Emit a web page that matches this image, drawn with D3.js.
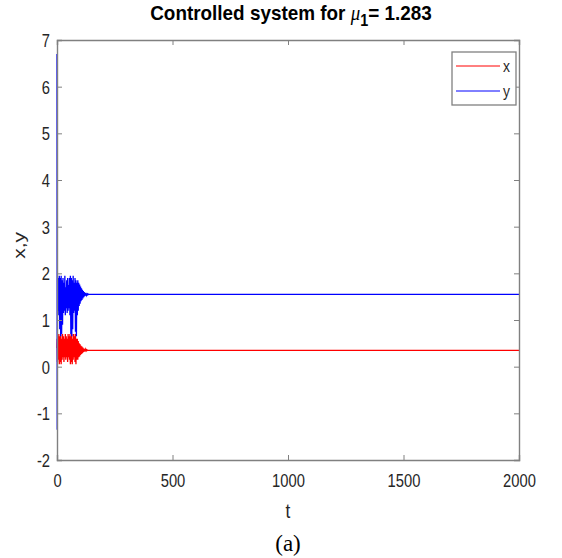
<!doctype html>
<html>

<head>
    <meta charset="utf-8">
    <style>
        body { margin: 0; background: #fff; }
        text { font-family: "Liberation Sans", Arial, sans-serif; }
    </style>
    <script src="https://d3js.org/d3.v7.min.js"></script>
</head>

<body>
    <svg width="562" height="558"></svg>
    <script>
        var xTicks = [0, 500, 1000, 1500, 2000]
        var yTicks = [-2, -1, 0, 1, 2, 3, 4, 5, 6, 7]

        var tVals = [0, 1, 2, 4, 6, 8, 10, 12, 14, 16, 18, 20, 22, 24, 26, 28, 30, 32, 34, 36, 38, 40,
            42, 44, 46, 48, 50, 52, 54, 56, 58, 60, 62, 64, 66, 68, 70, 72, 74, 76, 78, 80,
            82, 84, 86, 88, 90, 92, 94, 96, 98, 100, 102, 104, 106, 108, 110, 112, 114, 116, 118, 120,
            122, 124, 126, 128, 130, 132, 134, 136, 138, 140, 2000]

        var xVals = [0.4, 0.6, 0.1, 0.65, 0.15, 0.7, 0.05, 0.65, 0.1, 0.7, 0.05, 0.6, 0.15, 0.7, 0.2, 0.65, 0.1, 0.6, 0.2, 0.7, 0.15, 0.65,
            0.2, 0.6, 0.1, 0.7, 0.2, 0.65, 0.15, 0.7, 0.05, 0.65, 0.1, 0.7, 0.05, 0.6, 0.15, 0.7, 0.2, 0.65, 0.1, 0.7,
            0.05, 0.6, 0.15, 0.6, 0.15, 0.55, 0.2, 0.5, 0.22, 0.48, 0.25, 0.45, 0.27, 0.43, 0.29, 0.41, 0.31, 0.39, 0.32, 0.38,
            0.33, 0.37, 0.34, 0.36, 0.345, 0.355, 0.35, 0.35, 0.35, 0.35, 0.35]

        var yVals = [6.7, -1.35, 1.95, 1.2, 1.9, 1.1, 1.95, 0.8, 1.9, 0.65, 1.95, 0.7, 1.85, 0.9, 1.9, 1.15, 1.8, 1.2, 1.95, 1.1, 1.7, 1.25,
            1.85, 1.15, 1.9, 1.2, 1.75, 1.25, 1.9, 1.1, 1.95, 0.7, 1.9, 0.65, 1.85, 0.8, 1.95, 1.15, 1.8, 1.2, 1.9, 0.75,
            1.85, 0.65, 1.8, 1.1, 1.85, 1.2, 1.8, 1.3, 1.76, 1.35, 1.72, 1.4, 1.68, 1.43, 1.65, 1.46, 1.62, 1.49, 1.6, 1.51,
            1.58, 1.52, 1.57, 1.53, 1.56, 1.54, 1.555, 1.545, 1.55, 1.55, 1.55]

        var svg = d3.select("svg"),
            margin = { top: 40, right: 43, bottom: 98, left: 57 },
            width = 562 - margin.left - margin.right,
            height = 558 - margin.top - margin.bottom

        // the figure's lettering is squeezed horizontally
        var squeeze = 0.82;

        var xScale = d3.scaleLinear().domain([0, 2000]).range([0, width]),
            yScale = d3.scaleLinear().domain([-2, 7]).range([height, 0]);

        var g = svg.append("g")
            .attr("transform", "translate(" + margin.left + "," + margin.top + ")");

        var line = d3.line()
            .x(function (d, i) { return xScale(tVals[i]); })
            .y(function (d) { return yScale(d); });

        g.append("path")
            .datum(xVals)
            .attr("fill", "none")
            .attr("stroke", "#ff0000")
            .attr("stroke-width", 1.3)
            .attr("d", line);

        g.append("path")
            .datum(yVals)
            .attr("fill", "none")
            .attr("stroke", "#0000ff")
            .attr("stroke-width", 1.3)
            .attr("d", line);

        // axes, ticks pointing inwards on all sides
        var axisColor = "#808080", labelColor = "#262626";
        var plain = function (d) { return String(d); };

        var axBottom = g.append("g")
            .attr("transform", "translate(0," + height + ")")
            .call(d3.axisBottom(xScale).tickValues(xTicks).tickSize(-5).tickPadding(14).tickFormat(plain));
        var axTop = g.append("g")
            .call(d3.axisTop(xScale).tickValues(xTicks).tickSize(-5).tickFormat(""));
        var axLeft = g.append("g")
            .call(d3.axisLeft(yScale).tickValues(yTicks).tickSize(-5).tickPadding(7).tickFormat(plain));
        var axRight = g.append("g")
            .attr("transform", "translate(" + width + ",0)")
            .call(d3.axisRight(yScale).tickValues(yTicks).tickSize(-5).tickFormat(""));

        [axBottom, axTop, axLeft, axRight].forEach(function (a) {
            a.select(".domain").attr("stroke", axisColor).attr("stroke-width", 1.4);
            a.selectAll(".tick line").attr("stroke", axisColor);
            a.selectAll(".tick text")
                .attr("fill", labelColor)
                .style("font-size", "18px")
                .style("font-family", "'Liberation Sans', Arial, sans-serif")
                .attr("x", function () { return (+d3.select(this).attr("x") || 0) / squeeze; })
                .attr("transform", "scale(" + squeeze + ",1)");
        });
        axLeft.selectAll(".tick text").attr("dy", "0.36em");

        // legend
        var legend = g.append("g").attr("transform", "translate(" + (width - 67) + ",12)");
        legend.append("rect")
            .attr("width", 64).attr("height", 53)
            .attr("fill", "#fff").attr("stroke", "#808080").attr("stroke-width", 1.3);
        [["x", "#ff0000", 14], ["y", "#0000ff", 39]].forEach(function (d) {
            legend.append("line")
                .attr("x1", 4).attr("x2", 48).attr("y1", d[2]).attr("y2", d[2])
                .attr("stroke", d[1]).attr("stroke-width", 1);
            legend.append("text")
                .attr("transform", "translate(51," + (d[2] + 6) + ") scale(" + squeeze + ",1)")
                .attr("fill", labelColor)
                .style("font-size", "17px")
                .text(d[0]);
        });

        // x axis label
        g.append("text")
            .attr("transform", "translate(" + (width / 2) + "," + (height + 58) + ") scale(" + squeeze + ",1)")
            .attr("text-anchor", "middle")
            .attr("fill", labelColor)
            .style("font-size", "21px")
            .text("t");

        // y axis label
        g.append("text")
            .attr("transform", "translate(-32," + yScale(2.6) + ") rotate(-90) scale(1," + squeeze + ")")
            .attr("text-anchor", "middle")
            .attr("fill", labelColor)
            .style("font-size", "21px")
            .text("x,y");

        // title
        var title = svg.append("text")
            .attr("transform", "translate(" + (margin.left + width / 2 + 3) + ",20) scale(0.9,1)")
            .attr("text-anchor", "middle")
            .attr("fill", "#000")
            .style("font-size", "21px")
            .style("font-weight", "bold");
        title.append("tspan").text("Controlled system for ");
        title.append("tspan").style("font-style", "italic").style("font-weight", "normal")
            .style("font-family", "'Liberation Serif', serif").text("\u03bc");
        title.append("tspan").attr("dy", 6).style("font-size", "16px").text("1");
        title.append("tspan").attr("dy", -6).text("= 1.283");

        // caption
        svg.append("text")
            .attr("x", margin.left + width / 2)
            .attr("y", 551)
            .attr("text-anchor", "middle")
            .attr("fill", "#000")
            .style("font-family", "'Liberation Serif', 'Times New Roman', serif")
            .style("font-size", "23px")
            .text("(a)");
    </script>
</body>

</html>
